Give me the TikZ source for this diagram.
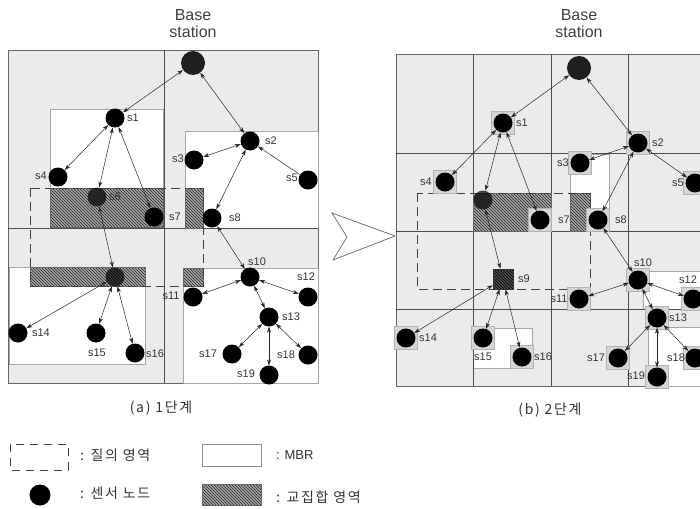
\documentclass[tikz,border=0pt]{standalone}
\usepackage{fontspec}
\setmainfont{Liberation Sans}
\newfontfamily\krfont[LetterSpace=12]{Noto Sans CJK KR}
\usetikzlibrary{arrows.meta,patterns}

\begin{document}
\begin{tikzpicture}[x=1pt,y=-1pt,
  sensor/.style={circle,fill=black,inner sep=0pt,minimum size=19pt},
  hidden/.style={circle,fill=black,fill opacity=0.7,inner sep=0pt,minimum size=19pt},
  basest/.style={circle,fill=black!88,inner sep=0pt,minimum size=24pt},
  leafbox/.style={rectangle,fill=black!16,draw=black!30,line width=0.5pt,inner sep=0pt,minimum size=23pt},
  hubsq/.style={rectangle,draw=black!80,line width=0.6pt,inner sep=0pt,minimum size=20pt,
    preaction={fill=black!70},pattern=north west lines,pattern color=black},
  lbl/.style={font=\fontsize{11}{11}\selectfont,text=black!80,inner sep=0pt},
  titletext/.style={font=\fontsize{16}{17}\selectfont,text=black!75,align=center,inner sep=0pt},
  subcap/.style={font=\krfont\fontsize{14}{15}\selectfont,text=black!80,inner sep=0pt},
  legtext/.style={font=\krfont\fontsize{14}{15}\selectfont,text=black!80,inner sep=0pt,anchor=west},
  mytip/.tip={Stealth[length=6pt,width=4pt]},
  link/.style={mytip-mytip,line width=0.5pt,draw=black!85},
  uplink/.style={-mytip,line width=0.5pt,draw=black!85},
  panel/.style={fill=black!8,draw=black!60,line width=0.9pt},
  cellline/.style={draw=black!70,line width=0.8pt},
  mbr/.style={fill=white,draw=black!35,line width=0.8pt},
  overlap/.style={preaction={fill=black!35},pattern=north west lines,pattern color=black!85,draw=black!60,line width=0.5pt},
  query/.style={draw=black!75,line width=0.9pt,dash pattern=on 9pt off 5pt}
]
\useasboundingbox (0,0) rectangle (700,508);
\clip (0,0) rectangle (700,508);

% ---------------- (a) stage 1 ----------------
\draw[panel] (8,50) rectangle (318,383);
\draw[mbr] (50,109) rectangle (163,227);
\draw[mbr] (185,131) rectangle (318,228);
\draw[mbr] (9,267) rectangle (145,364);
\draw[mbr] (183,268) rectangle (318,383);
\draw[cellline] (164,50) -- (164,383);
\draw[cellline] (8,228) -- (318,228);
\draw[overlap] (50,188) rectangle (163,227);
\draw[overlap] (185,188) rectangle (203,228);
\draw[overlap] (30,267) rectangle (145,286);
\draw[overlap] (183,268) rectangle (203,286);
\draw[query] (30,188) rectangle (203,286);

\node[titletext] (ta) at (193,24) {Base\\station};
\node[basest] (abs) at (193,63) {};
\node[sensor] (a1) at (115,118) {};
\node[sensor] (a2) at (250,141) {};
\node[sensor] (a3) at (194,160) {};
\node[sensor] (a4) at (58,177) {};
\node[sensor] (a5) at (308,180) {};
\node[hidden] (a6) at (97,197) {};
\node[sensor] (a7) at (154,217) {};
\node[sensor] (a8) at (212,218) {};
\node[hidden] (a9) at (115,277) {};
\node[sensor] (a10) at (250,277) {};
\node[sensor] (a11) at (193,297) {};
\node[sensor] (a12) at (308,297) {};
\node[sensor] (a13) at (269,317) {};
\node[sensor] (a14) at (18,333) {};
\node[sensor] (a15) at (96,333) {};
\node[sensor] (a16) at (135,353) {};
\node[sensor] (a17) at (232,354) {};
\node[sensor] (a18) at (308,355) {};
\node[sensor] (a19) at (269,375) {};

\draw[link] (abs) -- (a1);
\draw[link] (abs) -- (a2);
\draw[link] (a1) -- (a4);
\draw[link] (a1) -- (a6);
\draw[link] (a1) -- (a7);
\draw[link] (a2) -- (a3);
\draw[uplink] (a5) -- (a2);
\draw[link] (a2) -- (a8);
\draw[link] (a6) -- (a9);
\draw[link] (a9) -- (a14);
\draw[link] (a9) -- (a15);
\draw[link] (a9) -- (a16);
\draw[link] (a8) -- (a10);
\draw[link] (a10) -- (a11);
\draw[link] (a10) -- (a12);
\draw[link] (a10) -- (a13);
\draw[link] (a13) -- (a17);
\draw[link] (a13) -- (a18);
\draw[link] (a13) -- (a19);

\node[lbl] (la1) at (133,118) {s1};
\node[lbl] (la2) at (271,141) {s2};
\node[lbl] (la3) at (178,159) {s3};
\node[lbl] (la4) at (41,176) {s4};
\node[lbl] (la5) at (292,178) {s5};
\node[lbl] (la6) at (115,197) {s6};
\node[lbl] (la7) at (175,217) {s7};
\node[lbl] (la8) at (235,218) {s8};
\node[lbl] (la10) at (257,262) {s10};
\node[lbl] (la11) at (171,296) {s11};
\node[lbl] (la12) at (306,277) {s12};
\node[lbl] (la13) at (291,317) {s13};
\node[lbl] (la14) at (41,333) {s14};
\node[lbl] (la15) at (97,353) {s15};
\node[lbl] (la16) at (155,354) {s16};
\node[lbl] (la17) at (208,354) {s17};
\node[lbl] (la18) at (286,355) {s18};
\node[lbl] (la19) at (246,374) {s19};
\node[subcap] (capa) at (161,408) {(a) 1단계};

% ---------------- step arrow ----------------
\draw[draw=black!60,fill=white,line width=0.7pt] (332,213) -- (395,236) -- (333,260) -- (347,237) -- cycle;

% ---------------- (b) stage 2 ----------------
\draw[panel] (396,54) rectangle (710,386);
\draw[mbr] (570,154) rectangle (609,231);
\draw[mbr] (473,328) rectangle (532,368);
\draw[mbr] (643,271) rectangle (710,309);
\draw[mbr] (648,327) rectangle (710,386);
\foreach \gx in {473,551,628} \draw[cellline] (\gx,54) -- (\gx,386);
\foreach \gy in {153,231,309} \draw[cellline] (396,\gy) -- (710,\gy);
\draw[overlap] (473,193) rectangle (551,231);
\draw[overlap] (570,193) rectangle (590,231);
\draw[query] (417,193) rectangle (590,289);

\node[titletext] (tb) at (579,24) {Base\\station};
\node[basest] (bbs) at (579,68) {};
\foreach \n/\px/\py in {1/503/123, 2/638/143, 3/580/163, 4/445/182, 5/695/183,
    7/540/220, 8/598/220, 10/638/280, 11/579/299, 12/693/299, 13/657/318,
    14/406/338, 15/483/338, 16/522/357, 17/618/358, 18/695/358, 19/657/377}{
  \node[leafbox] (q\n) at (\px,\py) {};
  \node[sensor] (b\n) at (\px,\py) {};
}
\node[hidden] (b6) at (483,200) {};
\node[hubsq] (b9) at (503,279) {};

\draw[link] (bbs) -- (b1);
\draw[link] (bbs) -- (b2);
\draw[link] (b1) -- (b4);
\draw[link] (b1) -- (b6);
\draw[link] (b1) -- (b7);
\draw[link] (b2) -- (b3);
\draw[link] (b2) -- (b5);
\draw[link] (b2) -- (b8);
\draw[link] (b6) -- (b9);
\draw[link] (b9) -- (b14);
\draw[link] (b9) -- (b15);
\draw[link] (b9) -- (b16);
\draw[link] (b8) -- (b10);
\draw[link] (b10) -- (b11);
\draw[link] (b10) -- (b12);
\draw[link] (b10) -- (b13);
\draw[link] (b13) -- (b17);
\draw[link] (b13) -- (b18);
\draw[link] (b13) -- (b19);

\node[lbl] (lb1) at (522,123) {s1};
\node[lbl] (lb2) at (658,143) {s2};
\node[lbl] (lb3) at (563,163) {s3};
\node[lbl] (lb4) at (426,182) {s4};
\node[lbl] (lb5) at (678,183) {s5};
\node[lbl] (lb7) at (564,220) {s7};
\node[lbl] (lb8) at (621,220) {s8};
\node[lbl] (lb9) at (524,279) {s9};
\node[lbl] (lb10) at (643,263) {s10};
\node[lbl] (lb11) at (559,299) {s11};
\node[lbl] (lb12) at (688,280) {s12};
\node[lbl] (lb13) at (678,318) {s13};
\node[lbl] (lb14) at (428,338) {s14};
\node[lbl] (lb15) at (483,357) {s15};
\node[lbl] (lb16) at (543,357) {s16};
\node[lbl] (lb17) at (596,358) {s17};
\node[lbl] (lb18) at (676,358) {s18};
\node[lbl] (lb19) at (636,376) {s19};
\node[subcap] (capb) at (550,410) {(b) 2단계};

% ---------------- legend ----------------
\draw[query,dash pattern=on 8pt off 6pt] (10,444) rectangle (68,470);
\node[legtext] (lq) at (80,455) {: 질의 영역};
\node[sensor,minimum size=21pt] (ldot) at (40,495) {};
\node[legtext] (ls) at (80,493) {: 센서 노드};
\draw[mbr,draw=black!45] (202,444) rectangle (261,466);
\node[legtext,font=\fontsize{13}{14}\selectfont] (lm) at (276,455) {: MBR};
\draw[overlap] (202,484) rectangle (261,505);
\node[legtext] (lo) at (276,497) {: 교집합 영역};
\end{tikzpicture}
\end{document}
